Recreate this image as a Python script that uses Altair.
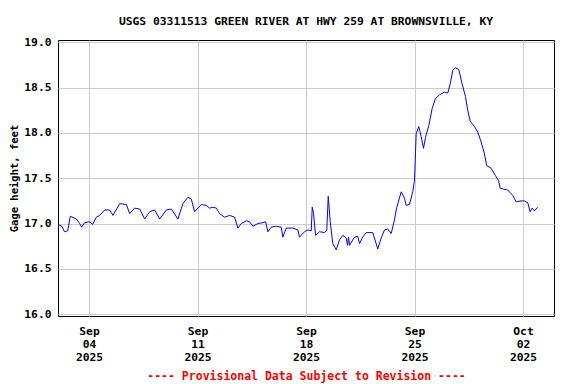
import altair as alt
import pandas as pd

times = [
    "2025-09-02T00:00", "2025-09-02T06:00", "2025-09-02T10:00", "2025-09-02T15:00", "2025-09-02T19:00",
    "2025-09-03T04:30", "2025-09-03T09:30", "2025-09-03T12:40", "2025-09-03T17:20",
    "2025-09-04T01:00", "2025-09-04T05:40", "2025-09-04T11:20", "2025-09-04T16:30",
    "2025-09-05T00:20", "2025-09-05T08:00", "2025-09-05T13:10", "2025-09-05T23:30",
    "2025-09-06T09:50", "2025-09-06T15:00", "2025-09-06T22:40",
    "2025-09-07T06:25", "2025-09-07T14:10", "2025-09-07T21:55",
    "2025-09-08T05:40", "2025-09-08T13:25", "2025-09-08T23:45",
    "2025-09-09T07:30", "2025-09-09T17:40",
    "2025-09-10T01:25", "2025-09-10T09:10", "2025-09-10T14:25", "2025-09-10T19:30",
    "2025-09-11T05:55", "2025-09-11T13:35", "2025-09-11T18:45", "2025-09-11T23:50",
    "2025-09-12T05:05", "2025-09-12T10:10", "2025-09-12T17:55",
    "2025-09-13T01:40", "2025-09-13T09:25", "2025-09-13T14:30", "2025-09-13T19:50",
    "2025-09-14T03:30", "2025-09-14T08:40", "2025-09-14T13:45", "2025-09-14T21:30",
    "2025-09-15T05:10", "2025-09-15T09:25", "2025-09-15T13:00", "2025-09-15T18:10",
    "2025-09-16T02:00", "2025-09-16T09:40", "2025-09-16T12:10", "2025-09-16T17:25",
    "2025-09-17T03:35", "2025-09-17T11:25", "2025-09-17T14:00", "2025-09-17T21:45",
    "2025-09-18T02:50", "2025-09-18T08:05", "2025-09-18T09:40", "2025-09-18T11:40", "2025-09-18T14:50", "2025-09-18T21:00",
    "2025-09-19T04:40", "2025-09-19T08:15", "2025-09-19T10:25", "2025-09-19T13:30", "2025-09-19T17:30", "2025-09-19T22:50",
    "2025-09-20T03:55", "2025-09-20T09:00", "2025-09-20T14:15", "2025-09-20T16:20", "2025-09-20T17:50", "2025-09-20T19:25",
    "2025-09-21T03:05", "2025-09-21T08:10", "2025-09-21T10:50", "2025-09-21T15:55", "2025-09-21T21:10",
    "2025-09-22T07:25", "2025-09-22T10:00", "2025-09-22T15:10", "2025-09-22T20:25",
    "2025-09-23T01:30", "2025-09-23T06:35", "2025-09-23T11:55", "2025-09-23T17:00", "2025-09-23T20:35",
    "2025-09-24T03:25", "2025-09-24T08:30", "2025-09-24T11:05", "2025-09-24T16:10", "2025-09-24T21:20",
    "2025-09-25T00:00", "2025-09-25T01:30", "2025-09-25T02:35", "2025-09-25T06:35", "2025-09-25T10:20",
    "2025-09-25T13:55", "2025-09-25T17:00", "2025-09-25T22:05",
    "2025-09-26T03:20", "2025-09-26T08:30", "2025-09-26T14:40", "2025-09-26T22:25",
    "2025-09-27T03:30", "2025-09-27T07:15", "2025-09-27T11:15", "2025-09-27T15:25", "2025-09-27T20:30",
    "2025-09-28T01:45", "2025-09-28T06:55", "2025-09-28T10:25", "2025-09-28T14:10", "2025-09-28T20:50",
    "2025-09-29T01:55", "2025-09-29T07:10", "2025-09-29T12:15", "2025-09-29T15:50", "2025-09-29T22:35",
    "2025-09-30T05:15", "2025-09-30T10:25", "2025-09-30T12:35", "2025-09-30T17:40",
    "2025-10-01T00:20", "2025-10-01T08:05", "2025-10-01T13:20", "2025-10-01T21:05",
    "2025-10-02T02:10", "2025-10-02T07:20", "2025-10-02T11:00", "2025-10-02T14:05", "2025-10-02T17:40", "2025-10-02T22:45",
]

gage_ft = [
    16.99, 16.97, 16.91, 16.92, 17.08,
    17.05, 17.00, 16.96, 17.01,
    17.02, 16.99, 17.07, 17.09,
    17.15, 17.15, 17.09, 17.22,
    17.21, 17.11, 17.17,
    17.16, 17.05, 17.13,
    17.15, 17.05, 17.15,
    17.16, 17.05,
    17.22, 17.29, 17.27, 17.13,
    17.21, 17.20, 17.17, 17.18,
    17.17, 17.11, 17.07,
    17.09, 17.07, 16.95, 17.00,
    17.03, 17.02, 16.97, 17.00,
    17.01, 17.02, 16.91, 16.96,
    16.97, 16.96, 16.85, 16.95,
    16.95, 16.93, 16.85, 16.91,
    16.93, 16.92, 17.18, 17.11, 16.87, 16.91,
    16.90, 16.93, 17.30, 17.02, 16.78, 16.71,
    16.82, 16.87, 16.84, 16.76, 16.85, 16.76,
    16.85, 16.86, 16.78, 16.85, 16.90,
    16.90, 16.84, 16.72, 16.84,
    16.93, 16.94, 16.89, 17.04, 17.18,
    17.35, 17.28, 17.20, 17.21, 17.35,
    17.48, 17.77, 17.99, 18.07, 17.96,
    17.83, 17.95, 18.08,
    18.27, 18.38, 18.42, 18.45,
    18.44, 18.54, 18.69, 18.72, 18.70,
    18.54, 18.40, 18.25, 18.13, 18.07,
    18.01, 17.90, 17.77, 17.64, 17.61,
    17.53, 17.47, 17.39, 17.38,
    17.37, 17.31, 17.24, 17.25,
    17.25, 17.23, 17.13, 17.17, 17.14, 17.18,
]

tick_dates = [(2025, 9, 4), (2025, 9, 11), (2025, 9, 18), (2025, 9, 25), (2025, 10, 2)]
y_ticks = [16.0, 16.5, 17.0, 17.5, 18.0, 18.5, 19.0]

df = pd.DataFrame({"t": times, "h": gage_ft})

FONT = "DejaVu Sans Mono"

chart = alt.Chart(df).mark_line(color="#0000ff", strokeWidth=1).encode(
    x=alt.X(
        "t:T",
        scale=alt.Scale(domain=[alt.DateTime(year=2025, month=9, date=2),
                                alt.DateTime(year=2025, month=10, date=4)]),
        axis=alt.Axis(
            values=[alt.DateTime(year=y, month=m, date=d) for (y, m, d) in tick_dates],
            labelExpr="[timeFormat(datum.value, '%b'), timeFormat(datum.value, '%d'), timeFormat(datum.value, '%Y')]",
            labelLineHeight=13,
            labelPadding=9,
            title="---- Provisional Data Subject to Revision ----",
            titleColor="#ff0000",
            titleFontSize=11.5,
            titlePadding=8,
        ),
    ),
    y=alt.Y(
        "h:Q",
        scale=alt.Scale(domain=[15.98, 19.025], nice=False, zero=False),
        axis=alt.Axis(values=y_ticks, format=".1f", title="Gage height, feet",
                      labelPadding=7, titlePadding=4, titleFontSize=10.5),
    ),
).properties(
    width=496,
    height=276,
    title=alt.TitleParams(
        "USGS 03311513 GREEN RIVER AT HWY 259 AT BROWNSVILLE, KY",
        font=FONT, fontSize=11.3, fontWeight="bold", color="black", offset=9,
        anchor="middle",
    ),
    autosize=alt.AutoSizeParams(type="none"),
    padding={"left": 50, "top": 32, "right": 12, "bottom": 68},
).configure_view(
    stroke="black", strokeWidth=1
).configure_axis(
    labelFont=FONT, labelFontSize=11.3, labelFontWeight="bold", labelColor="black",
    titleFont=FONT, titleFontSize=11.3, titleFontWeight="bold", titleColor="black",
    grid=True, gridColor="#cccccc", gridWidth=1,
    domain=False, ticks=False,
)

chart.save("out.html", embed_options={"renderer": "svg", "actions": False})
